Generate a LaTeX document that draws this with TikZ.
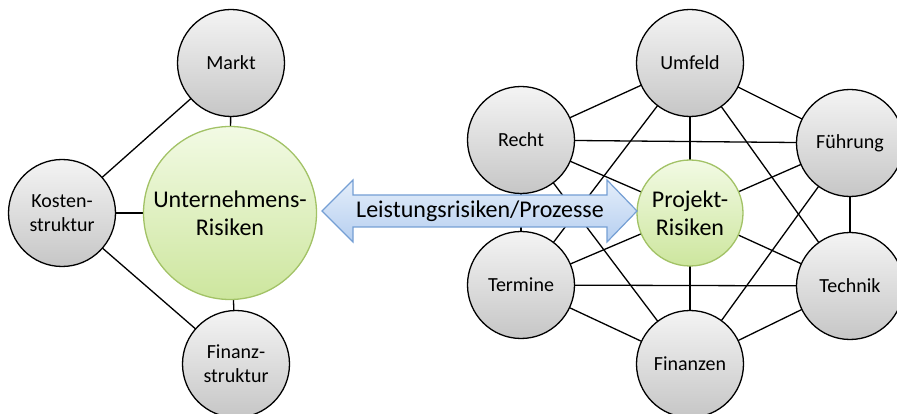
\documentclass[tikz,border=0pt]{standalone}
\usepackage{fontspec}
\setmainfont{Carlito}
\usetikzlibrary{backgrounds}
\definecolor{grayTop}{HTML}{F4F4F4}
\definecolor{grayBot}{HTML}{C6C6C6}
\definecolor{greenTop}{HTML}{F2FAE4}
\definecolor{greenBot}{HTML}{CDE69E}
\definecolor{greenLine}{HTML}{A2C266}
\definecolor{blueTop}{HTML}{E4EEFA}
\definecolor{blueBot}{HTML}{B6CFF0}
\definecolor{blueLine}{HTML}{759FD4}
\tikzset{
  riskcirc/.style={circle, draw=black, line width=1.3pt, top color=grayTop, bottom color=grayBot,
    minimum size=107pt, inner sep=0pt, align=center, font=\fontsize{20}{24}\selectfont},
  corecirc/.style={circle, draw=greenLine, line width=1.3pt, top color=greenTop, bottom color=greenBot,
    inner sep=0pt, align=center, font=\fontsize{24}{28}\selectfont},
  link/.style={draw=black, line width=1.3pt},
  flowarrow/.style={draw=blueLine, line width=1.2pt, top color=blueTop, bottom color=blueBot, line join=miter}
}
\begin{document}
\begin{tikzpicture}[x=1pt, y=-1pt]
\useasboundingbox (0,0) rectangle (897,414);

% company-level risks
\node[corecirc, minimum size=173pt] (unt) at (230,213) {Unternehmens-\\Risiken};
\node[riskcirc] (markt) at (231,63) {Markt};
\node[riskcirc] (kosten) at (62,213) {Kosten-\\struktur};
\node[riskcirc] (finst) at (236,364) {Finanz-\\struktur};

% project-level risks
\node[corecirc, minimum size=106pt] (proj) at (690,213) {Projekt-\\Risiken};
\node[riskcirc] (umfeld) at (690,63) {Umfeld};
\node[riskcirc] (recht) at (521,140) {Recht};
\node[riskcirc] (fuehr) at (850,143) {Führung};
\node[riskcirc] (termine) at (521,285) {Termine};
\node[riskcirc] (technik) at (850,286) {Technik};
\node[riskcirc] (finanzen) at (690,364) {Finanzen};

\begin{pgfonlayer}{background}
  % left cluster links
  \draw[link] (markt.center) -- (kosten.center);
  \draw[link] (markt.center) -- (unt.center);
  \draw[link] (kosten.center) -- (unt.center);
  \draw[link] (kosten.center) -- (finst.center);
  \draw[link] (unt.center) -- (finst.center);
  % right cluster: every node linked with every other
  \foreach \a/\b in {umfeld/recht, umfeld/fuehr, umfeld/proj, umfeld/termine, umfeld/technik,
                     recht/fuehr, recht/proj, recht/termine, recht/finanzen,
                     fuehr/proj, fuehr/technik, fuehr/finanzen,
                     termine/proj, termine/technik, termine/finanzen,
                     technik/proj, technik/finanzen, finanzen/proj}
    \draw[link] (\a.center) -- (\b.center);
\end{pgfonlayer}

% double arrow between both levels
\coordinate (tipL) at (322,211);
\coordinate (tipR) at (637,211);
\path[flowarrow] (tipL) -- (353,180) -- (353,195) -- (607,195) -- (607,180) -- (tipR)
  -- (607,242) -- (607,227) -- (353,227) -- (353,242) -- cycle;
\node[font=\fontsize{24}{28}\selectfont, inner sep=0pt] (flow) at (480,211) {Leistungsrisiken/Prozesse};
\end{tikzpicture}
\end{document}
